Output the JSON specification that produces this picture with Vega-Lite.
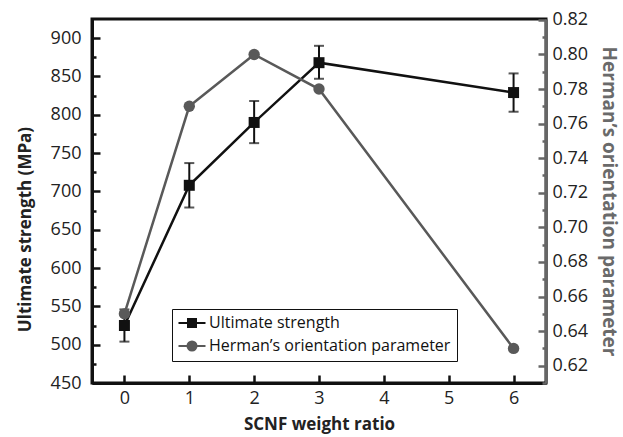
{
  "$schema": "https://vega.github.io/schema/vega-lite/v6.json",
  "autosize": {"type": "none"},
  "padding": {"left": 92, "top": 19, "right": 77, "bottom": 54},
  "width": 454,
  "height": 364,
  "background": "white",
  "config": {
    "font": "Open Sans",
    "view": {"stroke": "#111111", "strokeWidth": 3},
    "axis": {"grid": false, "labelFontSize": 18, "labelColor": "#222222", "titleFontSize": 17, "titleFontWeight": "bold", "tickWidth": 2.5, "domainWidth": 3}
  },
  "datasets": {
    "us": [
      {"ratio": 0, "strength": 525, "lo": 504, "hi": 546, "series": "Ultimate strength"},
      {"ratio": 1, "strength": 708, "lo": 679, "hi": 737, "series": "Ultimate strength"},
      {"ratio": 2, "strength": 790, "lo": 763, "hi": 818, "series": "Ultimate strength"},
      {"ratio": 3, "strength": 868, "lo": 847, "hi": 890, "series": "Ultimate strength"},
      {"ratio": 6, "strength": 829, "lo": 804, "hi": 854, "series": "Ultimate strength"}
    ],
    "ho": [
      {"ratio": 0, "herman": 0.65, "series": "Herman’s orientation parameter"},
      {"ratio": 1, "herman": 0.77, "series": "Herman’s orientation parameter"},
      {"ratio": 2, "herman": 0.80, "series": "Herman’s orientation parameter"},
      {"ratio": 3, "herman": 0.78, "series": "Herman’s orientation parameter"},
      {"ratio": 6, "herman": 0.63, "series": "Herman’s orientation parameter"}
    ]
  },
  "encoding": {
    "x": {
      "field": "ratio", "type": "quantitative",
      "scale": {"domain": [-0.5, 6.5], "nice": false, "zero": false},
      "axis": {
        "title": "SCNF weight ratio",
        "values": [0, 0.5, 1, 1.5, 2, 2.5, 3, 3.5, 4, 4.5, 5, 5.5, 6],
        "format": "d",
        "labelExpr": "datum.value % 1 === 0 ? datum.label : ''",
        "tickSize": {"condition": {"test": "datum.value % 1 === 0", "value": -8}, "value": -4},
        "domainColor": "#111111", "tickColor": "#111111", "titleColor": "#222222",
        "labelPadding": 14.5, "titlePadding": 9
      }
    }
  },
  "layer": [
    {
      "data": {"name": "us"},
      "layer": [
        {
          "mark": {"type": "errorbar", "ticks": {"size": 10, "thickness": 2}, "thickness": 2, "color": "#111111"},
          "encoding": {
            "y": {"field": "lo", "type": "quantitative", "scale": {"domain": [450, 925], "nice": false, "zero": false},
              "axis": {
                "title": "Ultimate strength (MPa)",
                "values": [450, 475, 500, 525, 550, 575, 600, 625, 650, 675, 700, 725, 750, 775, 800, 825, 850, 875, 900],
                "labelExpr": "datum.value % 50 === 0 ? datum.label : ''",
                "tickSize": {"condition": {"test": "datum.value % 50 === 0", "value": -8}, "value": -4},
                "domainColor": "#111111", "tickColor": "#111111", "titleColor": "#222222",
                "labelPadding": 19, "titlePadding": 16, "titleY": 210
              }},
            "y2": {"field": "hi"}
          }
        },
        {
          "mark": {"type": "line", "strokeWidth": 2.5},
          "encoding": {
            "y": {"field": "strength", "type": "quantitative", "scale": {"domain": [450, 925], "nice": false, "zero": false},
              "axis": {
                "title": "Ultimate strength (MPa)",
                "values": [450, 475, 500, 525, 550, 575, 600, 625, 650, 675, 700, 725, 750, 775, 800, 825, 850, 875, 900],
                "labelExpr": "datum.value % 50 === 0 ? datum.label : ''",
                "tickSize": {"condition": {"test": "datum.value % 50 === 0", "value": -8}, "value": -4},
                "domainColor": "#111111", "tickColor": "#111111", "titleColor": "#222222",
                "labelPadding": 19, "titlePadding": 16, "titleY": 210
              }},
            "color": {"field": "series", "type": "nominal"}
          }
        },
        {
          "mark": {"type": "point", "shape": "square", "filled": true, "size": 121, "opacity": 1},
          "encoding": {
            "y": {"field": "strength", "type": "quantitative", "scale": {"domain": [450, 925], "nice": false, "zero": false},
              "axis": {
                "title": "Ultimate strength (MPa)",
                "values": [450, 475, 500, 525, 550, 575, 600, 625, 650, 675, 700, 725, 750, 775, 800, 825, 850, 875, 900],
                "labelExpr": "datum.value % 50 === 0 ? datum.label : ''",
                "tickSize": {"condition": {"test": "datum.value % 50 === 0", "value": -8}, "value": -4},
                "domainColor": "#111111", "tickColor": "#111111", "titleColor": "#222222",
                "labelPadding": 19, "titlePadding": 16, "titleY": 210
              }},
            "color": {"field": "series", "type": "nominal"}
          }
        }
      ]
    },
    {
      "data": {"name": "ho"},
      "encoding": {
        "y": {"field": "herman", "type": "quantitative", "scale": {"domain": [0.61, 0.8205], "nice": false, "zero": false},
          "axis": {
            "orient": "right",
            "title": "Herman’s orientation parameter",
            "values": [0.61, 0.62, 0.63, 0.64, 0.65, 0.66, 0.67, 0.68, 0.69, 0.70, 0.71, 0.72, 0.73, 0.74, 0.75, 0.76, 0.77, 0.78, 0.79, 0.80, 0.81, 0.82],
            "labelExpr": "round(datum.value * 100) % 2 === 0 ? format(datum.value, '.2f') : ''",
            "tickSize": {"condition": {"test": "round(datum.value * 100) % 2 === 0", "value": -8}, "value": -4},
            "domainColor": "#666666", "tickColor": "#666666", "titleColor": "#6a6a6a",
            "titleFontSize": 19,
            "labelPadding": 14, "titlePadding": 11
          }},
        "color": {
          "field": "series", "type": "nominal",
          "scale": {"domain": ["Ultimate strength", "Herman’s orientation parameter"], "range": ["#111111", "#595959"]},
          "legend": {
            "orient": "none", "legendX": 80, "legendY": 290, "title": null,
            "strokeColor": "#111111", "fillColor": "white", "padding": 6, "rowPadding": 6,
            "labelFontSize": 16, "labelColor": "#111111", "labelOffset": 9, "labelLimit": 400,
            "symbolSize": 100, "symbolOffset": 6,
            "encode": {
              "symbols": {
                "update": {
                  "shape": {"signal": "datum.value === 'Ultimate strength' ? 'M-2.7,0H2.7M-0.8,-0.8H0.8V0.8H-0.8Z' : 'M-2.7,0H2.7M-0.9,0A0.9,0.9,0,1,0,0.9,0A0.9,0.9,0,1,0,-0.9,0Z'"},
                  "fill": {"signal": "scale('color', datum.value)"},
                  "stroke": {"signal": "scale('color', datum.value)"},
                  "strokeWidth": {"value": 2},
                  "opacity": {"value": 1}
                }
              }
            }
          }
        }
      },
      "layer": [
        {"mark": {"type": "line", "strokeWidth": 2.5}},
        {"mark": {"type": "point", "shape": "circle", "filled": true, "size": 130, "opacity": 1}}
      ]
    }
  ],
  "resolve": {"scale": {"y": "independent"}}
}
